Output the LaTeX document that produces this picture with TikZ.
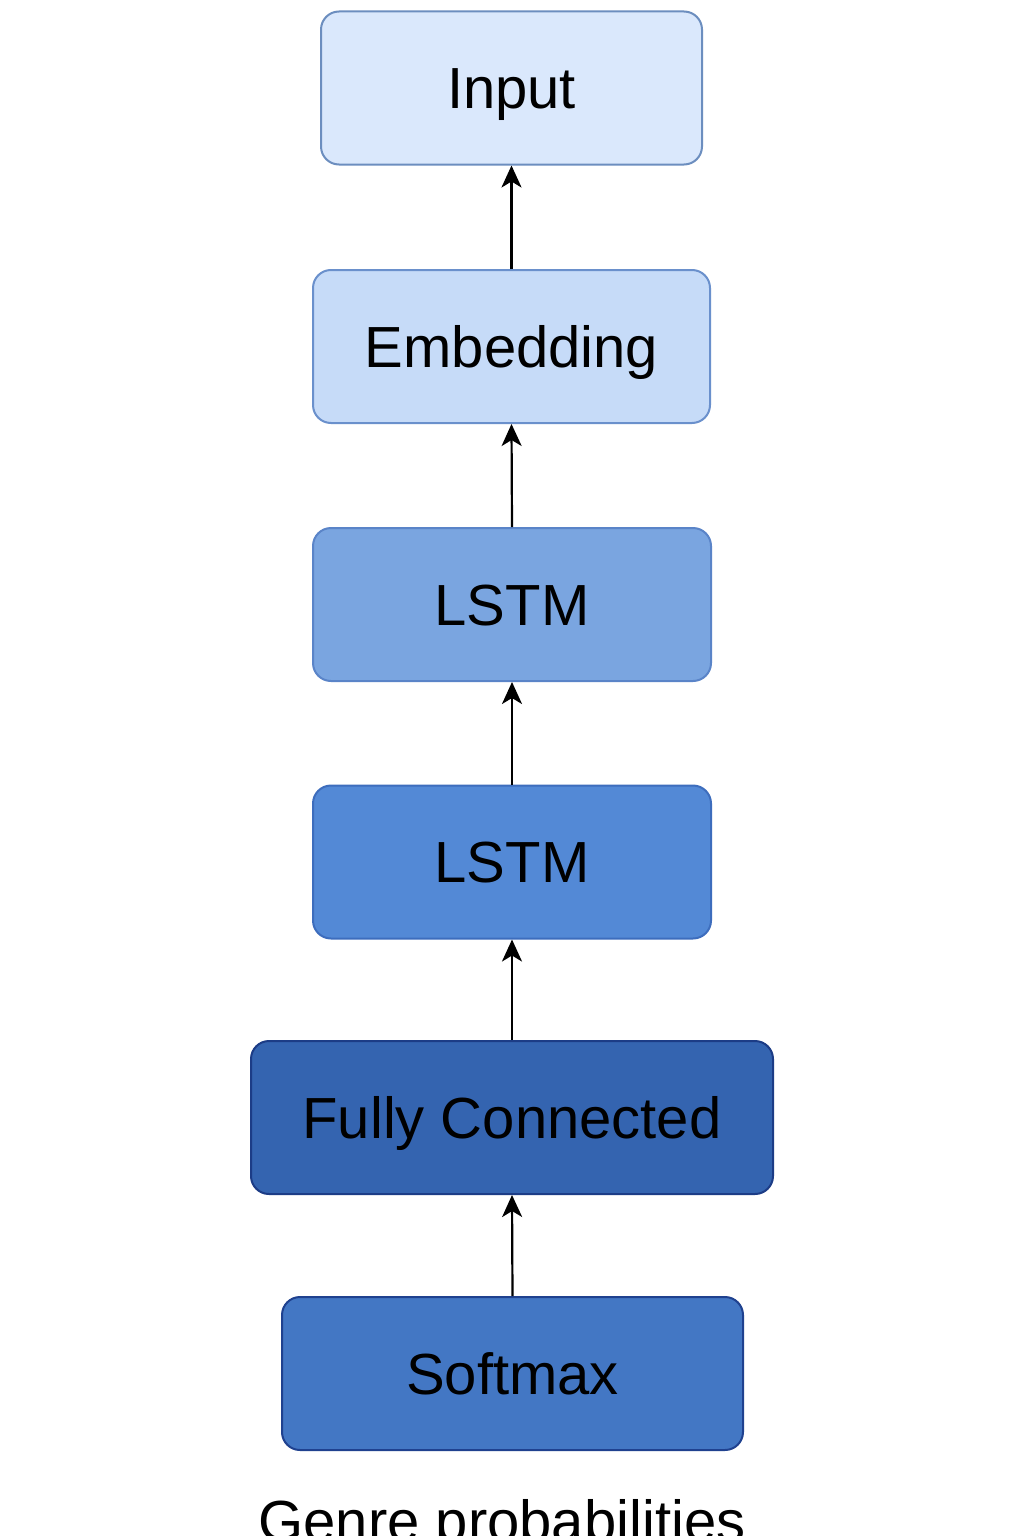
\documentclass[tikz,border=0pt]{standalone}
\usepackage{fontspec}
\setmainfont{Liberation Sans}
\usetikzlibrary{arrows.meta}
\definecolor{f1}{HTML}{DAE8FC}\definecolor{d1}{HTML}{6C8EBF}
\definecolor{f2}{HTML}{C6DBF8}\definecolor{d2}{HTML}{6A90CC}
\definecolor{f3}{HTML}{7AA5E0}\definecolor{d3}{HTML}{5A84C8}
\definecolor{f4}{HTML}{5389D6}\definecolor{d4}{HTML}{3D6DBD}
\definecolor{f5}{HTML}{3464B0}\definecolor{d5}{HTML}{1C3C86}
\definecolor{f6}{HTML}{4377C4}\definecolor{d6}{HTML}{1F418F}
\tikzset{
  layer/.style={draw, rounded corners=18pt, line width=2pt, minimum height=153pt,
    font=\fontsize{58}{60}\selectfont, text=black, inner sep=0pt,
    text height=41.5pt, text depth=0pt},
  conn/.style={line width=2.2pt, -{Stealth[length=22pt,width=20pt,inset=6pt]}},
}
\begin{document}
\begin{tikzpicture}[x=1pt,y=1pt]
\useasboundingbox (0,0) rectangle (1024,-1536);
\fill[white] (0,0) rectangle (1024,-1536);
\node[layer, fill=f1, draw=d1, minimum width=381pt] (input) at (511.5,-88) {Input};
\node[layer, fill=f2, draw=d2, minimum width=397pt] (emb) at (511.5,-346.5) {Embedding};
\node[layer, fill=f3, draw=d3, minimum width=398pt] (lstma) at (512,-604.5) {LSTM};
\node[layer, fill=f4, draw=d4, minimum width=398pt] (lstmb) at (512,-862) {LSTM};
\node[layer, fill=f5, draw=d5, minimum width=522pt] (fc) at (512,-1117.5) {Fully Connected};
\node[layer, fill=f6, draw=d6, minimum width=461pt] (soft) at (512.5,-1373.5) {Softmax};
\node[anchor=base, inner sep=0pt, font=\fontsize{58}{60}\selectfont] (out) at (502,-1541) {Genre probabilities};
\draw[conn] (emb.north) -- (input.south);
\draw[conn] (lstma.north) -- (emb.south);
\draw[conn] (lstmb.north) -- (lstma.south);
\draw[conn] (fc.north) -- (lstmb.south);
\draw[conn] (soft.north) -- (fc.south);
\end{tikzpicture}
\end{document}
